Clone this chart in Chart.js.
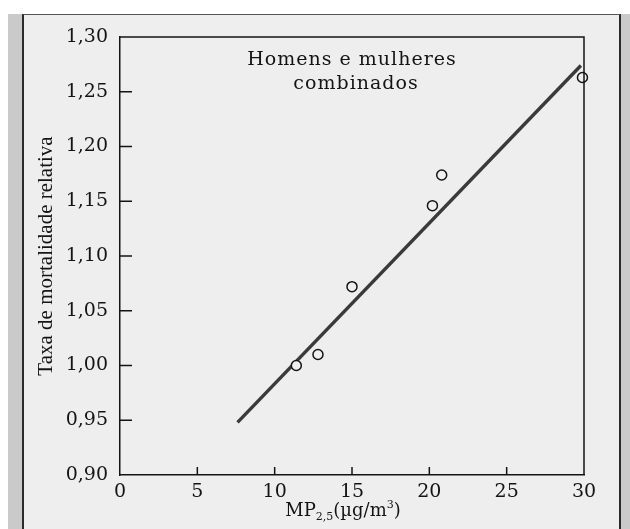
<!DOCTYPE html>
<html>
<head>
<meta charset="utf-8">
<script src="https://cdn.jsdelivr.net/npm/chart.js@4.4.0/dist/chart.umd.min.js"></script>
<style>
  html, body { margin:0; padding:0; width:630px; height:529px; overflow:hidden; background:#fff; }
  #stripL { position:absolute; left:8px; top:14px; width:15px; height:515px; background:#cacaca; }
  #stripR { position:absolute; left:620px; top:14px; width:10px; height:515px; background:#cacaca; }
  #page { position:absolute; left:22px; top:14px; width:595px; height:515px; background:#eeeeee;
          border-left:2px solid #2a2a2a; border-top:1px solid #555; border-right:2px solid #2a2a2a; }
  #wrap { position:absolute; left:0; top:0; width:630px; height:529px; }
</style>
</head>
<body>
<div id="stripL"></div><div id="stripR"></div><div id="page"></div>
<div id="wrap"><canvas id="chart" width="630" height="529"></canvas></div>
<script>
// MP2,5 x taxa de mortalidade relativa (homens e mulheres combinados)
const pmValues        = [11.4, 12.8, 15.0, 20.2, 20.8, 29.9];
const mortalityValues = [1.000, 1.010, 1.072, 1.146, 1.174, 1.263];
// reta ajustada (extremos)
const fitX = [7.6, 29.8];
const fitY = [0.948, 1.274];

const xTicks = [0, 5, 10, 15, 20, 25, 30];
const yTicks = [0.90, 0.95, 1.00, 1.05, 1.10, 1.15, 1.20, 1.25, 1.30];

const titleLines = ['Homens e mulheres', 'combinados'];
const yTitle = 'Taxa de mortalidade relativa';

const INK = '#141414';
const SERIF = "'DejaVu Serif', serif";

// moldura, tracinhos internos, título e legenda do eixo x
const decor = {
  id: 'decor',
  afterDraw(chart) {
    const { ctx, chartArea: a, scales: { x, y } } = chart;
    ctx.save();
    ctx.strokeStyle = INK;
    ctx.lineWidth = 1.5;
    ctx.beginPath();
    ctx.moveTo(a.left, a.top); ctx.lineTo(a.right, a.top); ctx.lineTo(a.right, a.bottom);
    ctx.stroke();
    // ticks para dentro
    ctx.beginPath();
    xTicks.slice(1, -1).forEach(v => { const px = x.getPixelForValue(v); ctx.moveTo(px, a.bottom); ctx.lineTo(px, a.bottom - 8); });
    yTicks.slice(1, -1).forEach(v => { const py = y.getPixelForValue(v); ctx.moveTo(a.left, py); ctx.lineTo(a.left + 12, py); });
    ctx.stroke();

    // título dentro do gráfico
    ctx.fillStyle = INK;
    ctx.font = '19px ' + SERIF;
    ctx.letterSpacing = '1px';
    ctx.textAlign = 'center';
    ctx.textBaseline = 'middle';
    ctx.fillText(titleLines[0], 352, 60);
    ctx.fillText(titleLines[1], 356, 84);
    ctx.letterSpacing = '0px';

    // MP2,5(µg/m3) com sub/sobrescrito
    const parts = [
      { t: 'MP', f: 18, dy: 0 },
      { t: '2,5', f: 11, dy: 4 },
      { t: '(\u00b5g/m', f: 18, dy: 0 },
      { t: '3', f: 11, dy: -8 },
      { t: ')', f: 18, dy: 0 }
    ];
    ctx.textAlign = 'left';
    ctx.textBaseline = 'alphabetic';
    let w = 0;
    parts.forEach(p => { ctx.font = p.f + 'px ' + SERIF; p.w = ctx.measureText(p.t).width; w += p.w; });
    let cx = 343 - w / 2;
    parts.forEach(p => { ctx.font = p.f + 'px ' + SERIF; ctx.fillText(p.t, cx, 516 + p.dy); cx += p.w; });
    ctx.restore();
  }
};

new Chart(document.getElementById('chart'), {
  type: 'scatter',
  data: {
    datasets: [
      {
        label: 'Dados',
        data: pmValues.map((v, i) => ({ x: v, y: mortalityValues[i] })),
        pointRadius: 5,
        pointBorderWidth: 1.5,
        pointBorderColor: INK,
        pointBackgroundColor: '#efefef',
        clip: false
      },
      {
        label: 'Ajuste',
        data: fitX.map((v, i) => ({ x: v, y: fitY[i] })),
        showLine: true,
        borderColor: '#3a3a3a',
        borderWidth: 3.4,
        pointRadius: 0,
        clip: false
      }
    ]
  },
  options: {
    responsive: false,
    animation: false,
    layout: { padding: { top: 37, right: 46, bottom: 0, left: 0 } },
    plugins: { legend: { display: false }, tooltip: { enabled: false }, title: { display: false } },
    scales: {
      x: {
        type: 'linear', position: 'bottom', min: 0, max: 30,
        afterBuildTicks: s => { s.ticks = xTicks.map(v => ({ value: v })); },
        afterFit: s => { s.height = 54; s.paddingLeft = 0; s.paddingRight = 0; },
        grid: { display: false, drawTicks: false },
        border: { display: true, color: INK, width: 1.5 },
        ticks: { color: INK, padding: 6, font: { family: SERIF, size: 19 }, maxRotation: 0, autoSkip: false,
                 callback: v => String(v) }
      },
      y: {
        type: 'linear', position: 'left', min: 0.9, max: 1.3,
        afterBuildTicks: s => { s.ticks = yTicks.map(v => ({ value: v })); },
        afterFit: s => { s.width = 120; s.paddingTop = 0; s.paddingBottom = 0; },
        grid: { display: false, drawTicks: false },
        border: { display: true, color: INK, width: 1.5 },
        ticks: { color: INK, padding: 12, font: { family: SERIF, size: 19 }, autoSkip: false,
                 callback: v => v.toFixed(2).replace('.', ',') },
        title: { display: true, text: yTitle, color: INK, padding: { top: 34 },
                 font: { family: "'Liberation Serif', serif", size: 21 } }
      }
    }
  },
  plugins: [decor]
});
</script>
</body>
</html>
